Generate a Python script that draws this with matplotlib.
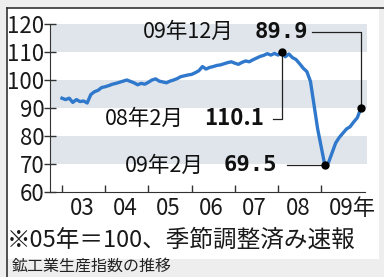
import matplotlib
matplotlib.use('Agg')
import matplotlib.pyplot as plt
from matplotlib.patches import Rectangle
from matplotlib.lines import Line2D

plt.rcParams['font.family'] = ['Noto Sans CJK JP', 'DejaVu Sans']

# monthly index, Jan 2003 .. Dec 2009 (2005=100, seasonally adjusted)
y2003 = [93.5, 93.0, 93.5, 92.0, 93.0, 92.3, 92.5, 91.8, 94.8, 95.8, 96.3, 97.3]
y2004 = [97.6, 98.0, 98.5, 98.8, 99.2, 99.6, 100.0, 99.5, 99.0, 98.3, 98.8, 98.5]
y2005 = [99.2, 100.0, 100.4, 99.6, 99.3, 99.0, 99.6, 100.0, 100.5, 101.2, 101.5, 101.8]
y2006 = [102.0, 102.6, 103.3, 104.8, 103.9, 104.5, 104.8, 105.2, 105.4, 105.8, 106.2, 106.5]
y2007 = [106.0, 105.6, 106.3, 106.8, 106.5, 107.2, 107.8, 108.4, 108.8, 109.4, 108.9, 109.5]
y2008 = [108.9, 110.1, 108.3, 109.3, 108.0, 107.3, 105.8, 104.2, 103.0, 99.5, 91.0, 82.5]
y2009 = [76.0, 69.5, 70.5, 74.0, 77.5, 79.5, 81.0, 82.5, 83.3, 85.0, 86.5, 89.9]
values = y2003 + y2004 + y2005 + y2006 + y2007 + y2008 + y2009
months = list(range(len(values)))

year_labels = ['03', '04', '05', '06', '07', '08', '09年']
yticks = [60, 70, 80, 90, 100, 110, 120]

peak_i, low_i, last_i = 61, 73, 83

fig = plt.figure(figsize=(3.84, 2.77), dpi=100)
fig.patch.set_facecolor('#eeeeee')

# white panel with dark top/left border, grey caption strip
fig.patches.append(Rectangle((7/384, 18/277), 372/384, 251/277, transform=fig.transFigure,
                             facecolor='white', edgecolor='none', zorder=-5))
fig.lines.append(Line2D([7/384, 7/384], [0, 269/277], transform=fig.transFigure, color='#333333', lw=1.2))
fig.lines.append(Line2D([7/384, 1], [269/277, 269/277], transform=fig.transFigure, color='#333333', lw=1.2))
fig.text(12/384, 1 - 266/277, '鉱工業生産指数の推移', fontsize=11.5, va='center', ha='left', color='#222222')

ax = fig.add_axes([50/384, 1 - 192/277, 317/384, 168/277])
ax.set_zorder(2)
ax.set_facecolor('none')
ax.set_xlim(-3.33, 84.7)
ax.set_ylim(60, 120)

for lo in [70, 90, 110]:
    ax.axhspan(lo, lo + 10, color='#dfe5ea', zorder=0, lw=0)

ax.plot(months, values, color='#2f78cc', lw=2.4, zorder=3, solid_joinstyle='round')

for sp in ['top', 'right']:
    ax.spines[sp].set_visible(False)
ax.spines['left'].set_color('#333333')
ax.spines['bottom'].set_color('#333333')
ax.spines['bottom'].set_bounds(-3.33, 84.2)

ax.set_yticks(yticks)
ax.set_yticklabels([str(v) for v in yticks], fontsize=16, color='#1a1a1a')
ax.tick_params(axis='y', direction='inout', length=8, width=1, color='#333333', pad=0)

ax.set_xticks([0, 12, 24, 36, 48, 60, 72])
ax.set_xticklabels([])
ax.tick_params(axis='x', direction='in', length=5, width=1, color='#333333')
for k, lab in enumerate(year_labels):
    xc = 12 * k + 5.5
    if lab.endswith('年'):
        ax.text(xc - 3.3, 58.2, lab, fontsize=16, ha='left', va='top', color='#1a1a1a')
    else:
        ax.text(xc, 58.2, lab, fontsize=16, ha='center', va='top', color='#1a1a1a')

fig.text(7/384, 1 - 240/277, '※05年＝100、季節調整済み速報', fontsize=17, va='center',
         ha='left', color='#1a1a1a')

# markers + leader lines
for i in [peak_i, low_i, last_i]:
    ax.plot(months[i], values[i], 'o', color='black', ms=5, zorder=5)

lc = dict(color='#222222', lw=0.9, zorder=4)
# 09年12月
ax.plot([69.5, months[last_i], months[last_i]], [117.1, 117.1, values[last_i]], **lc)
ax.text(22.4, 117.1, '09年12月', fontsize=15.5, ha='left', va='center', color='#111111')
ax.text(53.5, 117.1, '89.9', fontsize=16, ha='left', va='center', fontweight='bold',
        family='DejaVu Sans Mono', color='#111111')
# 08年2月
ax.plot([58.5, months[peak_i], months[peak_i]], [86.1, 86.1, values[peak_i]], **lc)
ax.text(11.9, 86.1, '08年2月', fontsize=15.5, ha='left', va='center', color='#111111')
ax.text(39.5, 86.1, '110.1', fontsize=16, ha='left', va='center', fontweight='bold', color='#111111')
# 09年2月
ax.plot([62.5, months[low_i]], [values[low_i], values[low_i]], **lc)
ax.text(17.4, 69.5, '09年2月', fontsize=15.5, ha='left', va='center', color='#111111')
ax.text(45.0, 69.5, '69.5', fontsize=16, ha='left', va='center', fontweight='bold',
        family='DejaVu Sans Mono', color='#111111')

fig.savefig('out.png', dpi=100)
